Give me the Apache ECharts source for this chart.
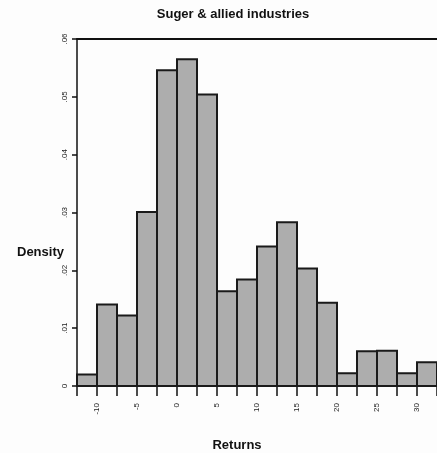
<!DOCTYPE html>
<html>
<head>
<meta charset="utf-8">
<script src="https://cdn.jsdelivr.net/npm/echarts@6/dist/echarts.min.js"></script>
<style>
  html, body { margin: 0; padding: 0; background: #fdfdfd; }
  #chart { width: 437px; height: 453px; }
</style>
</head>
<body>
<div id="chart"></div>
<script>
// Histogram of returns (%), bin width 2.5
const binStarts = [-12.5, -10, -7.5, -5, -2.5, 0, 2.5, 5, 7.5, 10, 12.5, 15, 17.5, 20, 22.5, 25, 27.5, 30];
const density = [0.0020, 0.0141, 0.0122, 0.0301, 0.0546, 0.0565, 0.0504, 0.0164, 0.0184, 0.0241,
                 0.0283, 0.0203, 0.0144, 0.0022, 0.0060, 0.0061, 0.0022, 0.0041];
const binWidth = 2.5;
const xLabels = [-10, -5, 0, 5, 10, 15, 20, 25, 30];
const yLabels = [0, 0.01, 0.02, 0.03, 0.04, 0.05, 0.06];

const bins = binStarts.map((s, i) => [s, s + binWidth, density[i]]);

const fmtY = v => v === 0 ? '0' : String(+v.toFixed(2)).replace(/^0/, '');

const chart = echarts.init(document.getElementById('chart'), null, { renderer: 'canvas' });
chart.setOption({
  backgroundColor: '#fdfdfd',
  animation: false,
  title: [
    { text: 'Suger & allied industries', left: 228, top: 3, textAlign: 'center',
      textStyle: { fontFamily: 'Liberation Sans', fontSize: 13, fontWeight: 'bold', color: '#111' } },
    { text: 'Returns', left: 232, top: 434, textAlign: 'center',
      textStyle: { fontFamily: 'Liberation Sans', fontSize: 13, fontWeight: 'bold', color: '#111' } },
    { text: 'Density', left: 12, top: 241,
      textStyle: { fontFamily: 'Liberation Sans', fontSize: 13, fontWeight: 'bold', color: '#111' } }
  ],
  grid: { left: 77, right: 0, top: 39, bottom: 67, containLabel: false },
  xAxis: [
    {
      type: 'value', min: -12.5, max: 32.5, interval: 2.5,
      axisLine: { show: true, onZero: false, lineStyle: { color: '#111', width: 2 } },
      axisTick: { show: true, length: 10, lineStyle: { color: '#111', width: 1.5 } },
      splitLine: { show: false },
      axisLabel: {
        rotate: 90, margin: 17, fontSize: 8, color: '#222', fontFamily: 'Liberation Sans',
        formatter: v => xLabels.includes(v) ? String(v) : ''
      }
    },
    {
      type: 'value', position: 'top', min: -12.5, max: 32.5,
      axisLine: { show: true, onZero: false, lineStyle: { color: '#111', width: 2 } },
      axisTick: { show: false }, axisLabel: { show: false }, splitLine: { show: false }
    }
  ],
  yAxis: {
    type: 'value', min: 0, max: 0.06, interval: 0.01,
    axisLine: { show: true, onZero: false, lineStyle: { color: '#111', width: 1.5 } },
    axisTick: { show: true, length: 5, lineStyle: { color: '#111', width: 1.5 } },
    splitLine: { show: false },
    axisLabel: {
      rotate: 90, margin: 8, fontSize: 8, color: '#222', fontFamily: 'Liberation Sans',
      formatter: v => yLabels.some(t => Math.abs(t - v) < 1e-9) ? fmtY(v) : ''
    }
  },
  series: [{
    type: 'custom',
    xAxisIndex: 0,
    data: bins,
    encode: { x: [0, 1], y: 2 },
    renderItem: (params, api) => {
      const p0 = api.coord([api.value(0), 0]);
      const p1 = api.coord([api.value(1), api.value(2)]);
      return {
        type: 'rect',
        shape: { x: p0[0], y: p1[1], width: p1[0] - p0[0], height: p0[1] - p1[1] },
        style: { fill: '#adadad', stroke: '#1a1a1a', lineWidth: 2 }
      };
    }
  }]
});
</script>
</body>
</html>
